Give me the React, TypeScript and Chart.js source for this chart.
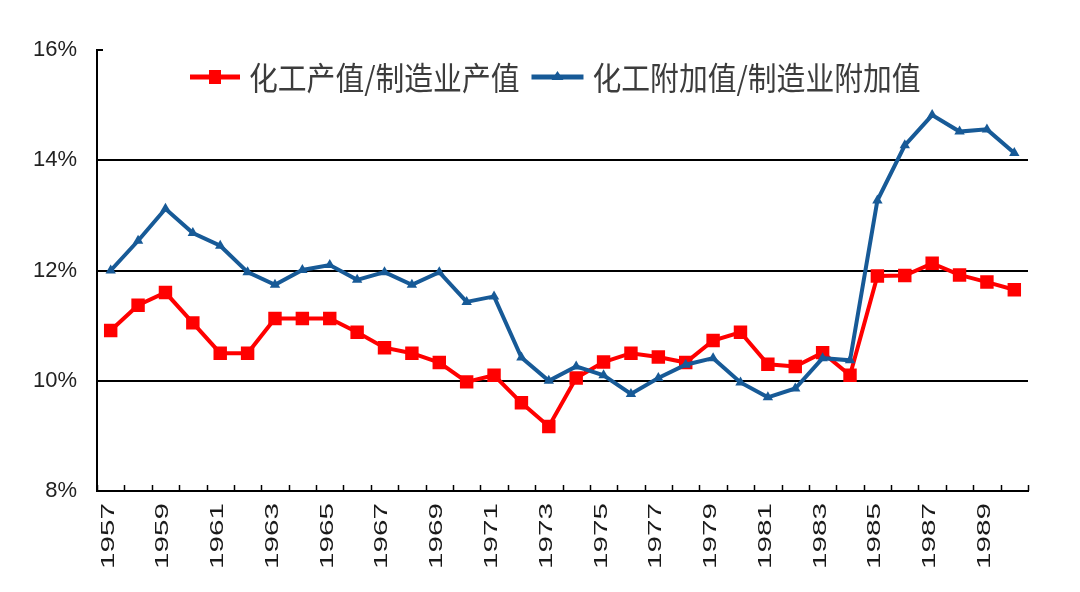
import React, { useEffect, useRef } from 'react';
import { Chart, registerables } from 'chart.js';

Chart.register(...registerables);

const years = [
  '1957', '1958', '1959', '1960', '1961', '1962', '1963', '1964', '1965', '1966',
  '1967', '1968', '1969', '1970', '1971', '1972', '1973', '1974', '1975', '1976',
  '1977', '1978', '1979', '1980', '1981', '1982', '1983', '1984', '1985', '1986',
  '1987', '1988', '1989', '1990',
];

// 化工产值/制造业产值 (%)
const outputShare = [
  10.91, 11.37, 11.6, 11.05, 10.5, 10.5, 11.13, 11.13, 11.13, 10.88,
  10.6, 10.5, 10.33, 9.98, 10.1, 9.6, 9.17, 10.05, 10.34, 10.5,
  10.43, 10.33, 10.73, 10.88, 10.3, 10.26, 10.51, 10.1, 11.9, 11.91,
  12.13, 11.92, 11.79, 11.65,
];

// 化工附加值/制造业附加值 (%)
const valueAddedShare = [
  12.0, 12.54, 13.12, 12.68, 12.45, 11.97, 11.74, 12.01, 12.1, 11.83,
  11.97, 11.74, 11.97, 11.43, 11.53, 10.42, 10.0, 10.26, 10.1, 9.76,
  10.05, 10.29, 10.41, 9.97, 9.7, 9.86, 10.41, 10.37, 13.27, 14.27,
  14.82, 14.52, 14.56, 14.13,
];

const seriesNames = ['化工产值/制造业产值', '化工附加值/制造业附加值'];
const seriesColors = ['#FF0000', '#175A97'];
const yMin = 8;
const yMax = 16;
const yStep = 2;
const gridValues = [10, 12, 14];

const customDraw = {
  id: 'customDraw',
  afterDraw(chart: any) {
    const { ctx, chartArea, scales } = chart;
    const x = scales.x;
    const labels: string[] = chart.data.labels;
    const half = (x.getPixelForValue(1) - x.getPixelForValue(0)) / 2;

    ctx.save();
    // inner tick marks on x axis at category boundaries
    ctx.strokeStyle = '#000';
    ctx.lineWidth = 1.5;
    for (let i = 0; i <= labels.length; i++) {
      const px = Math.round(x.getPixelForValue(i) - half) + 0.5;
      ctx.beginPath();
      ctx.moveTo(px, chartArea.bottom);
      ctx.lineTo(px, chartArea.bottom - 6);
      ctx.stroke();
    }
    // small tick at top of y axis
    ctx.lineWidth = 2;
    ctx.beginPath();
    ctx.moveTo(chartArea.left, chartArea.top);
    ctx.lineTo(chartArea.left + 6, chartArea.top);
    ctx.stroke();

    // rotated x labels (every other year)
    ctx.fillStyle = '#1a1a1a';
    ctx.font = '18px "Liberation Sans", Arial, sans-serif';
    ctx.textAlign = 'right';
    ctx.textBaseline = 'middle';
    labels.forEach((lab, i) => {
      if (i % 2 !== 0) return;
      const px = x.getPixelForValue(i);
      ctx.save();
      ctx.translate(px - 2, chartArea.bottom + 12);
      ctx.rotate(-Math.PI / 2);
      ctx.scale(1.65, 1);
      ctx.fillText(lab, 0, 0);
      ctx.restore();
    });

    // legend inside plot area
    const ly = chartArea.top + 27;
    let lx = chartArea.left + 93;
    ctx.font = '32px "Noto Sans CJK SC", sans-serif';
    ctx.textAlign = 'left';
    ctx.textBaseline = 'middle';
    chart.data.datasets.forEach((ds: any, di: number) => {
      const lineW = di === 0 ? 50 : 52;
      ctx.strokeStyle = ds.borderColor;
      ctx.fillStyle = ds.borderColor;
      ctx.lineWidth = 5;
      ctx.beginPath();
      ctx.moveTo(lx, ly);
      ctx.lineTo(lx + lineW, ly);
      ctx.stroke();
      const cx = lx + lineW / 2;
      if (di === 0) {
        ctx.fillRect(cx - 6, ly - 7, 12, 14);
      } else {
        ctx.beginPath();
        ctx.moveTo(cx, ly - 6);
        ctx.lineTo(cx + 6, ly + 3);
        ctx.lineTo(cx - 6, ly + 3);
        ctx.closePath();
        ctx.fill();
      }
      const tx = lx + lineW + 9;
      ctx.save();
      ctx.translate(tx, ly + 1);
      ctx.scale(0.9, 1);
      ctx.fillStyle = '#3c3c3c';
      ctx.fillText(ds.label, 0, 0);
      const w = ctx.measureText(ds.label).width * 0.9;
      ctx.restore();
      lx = tx + w + 12;
    });
    ctx.restore();
  },
};

export default function App() {
  const canvasRef = useRef<HTMLCanvasElement | null>(null);

  useEffect(() => {
    if (!canvasRef.current) return;
    const chart = new Chart(canvasRef.current, {
      type: 'line',
      data: {
        labels: years,
        datasets: [
          {
            label: seriesNames[0],
            data: outputShare,
            borderColor: seriesColors[0],
            backgroundColor: seriesColors[0],
            borderWidth: 4,
            pointStyle: 'rect',
            pointRadius: 9.5,
            pointBorderWidth: 0,
            pointHoverRadius: 9.5,
            tension: 0,
            order: 1,
          },
          {
            label: seriesNames[1],
            data: valueAddedShare,
            borderColor: seriesColors[1],
            backgroundColor: seriesColors[1],
            borderWidth: 4,
            pointStyle: 'triangle',
            pointRadius: 6,
            pointBorderWidth: 0,
            pointHoverRadius: 6,
            tension: 0,
            order: 0,
          },
        ],
      },
      options: {
        animation: false,
        responsive: false,
        maintainAspectRatio: false,
        layout: { padding: { left: 0, right: 52, top: 50, bottom: 0 } },
        plugins: {
          legend: { display: false },
          tooltip: { enabled: false },
        },
        scales: {
          x: {
            type: 'category',
            offset: true,
            grid: { display: false },
            border: { display: true, color: '#000', width: 2 },
            ticks: { display: false },
            afterFit: (s: any) => {
              s.height = 101;
            },
          },
          y: {
            min: yMin,
            max: yMax,
            ticks: {
              stepSize: yStep,
              padding: 20,
              color: '#222',
              font: { family: '"Liberation Sans", Arial, sans-serif', size: 22 },
              callback: (v: any) => `${v}%`,
            },
            grid: {
              drawTicks: false,
              lineWidth: 2,
              color: (c: any) =>
                gridValues.includes(c.tick?.value) ? '#000' : 'rgba(0,0,0,0)',
            },
            border: { display: true, color: '#000', width: 2 },
            afterFit: (s: any) => {
              s.width = 97;
            },
          },
        },
      },
      plugins: [customDraw],
    });
    return () => chart.destroy();
  }, []);

  return (
    <div style={{ position: 'fixed', left: 0, top: 0, width: 1080, height: 592, background: '#fff' }}>
      <canvas ref={canvasRef} width={1080} height={592} style={{ width: 1080, height: 592 }} />
    </div>
  );
}
